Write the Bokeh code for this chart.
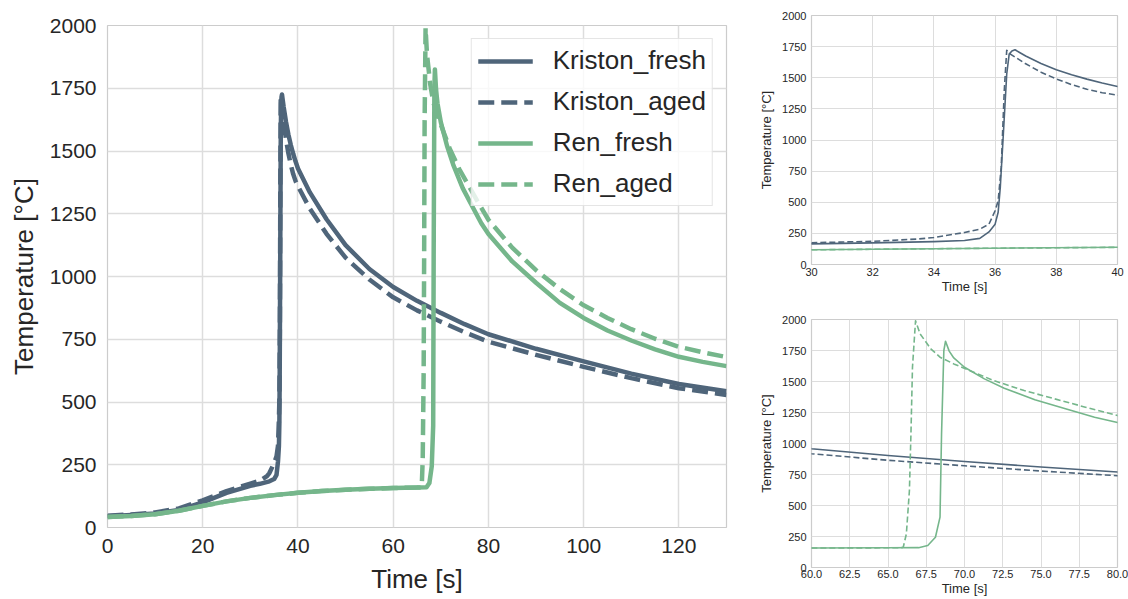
from bokeh.plotting import figure
from bokeh.layouts import row, column
from bokeh.models import Range1d, SingleIntervalTicker, PrintfTickFormatter
from bokeh.embed import file_html
from bokeh.resources import INLINE

# ---------------- data ----------------
kf_t = [0, 5, 10, 15, 20, 25, 30, 32, 34, 35, 35.5, 35.8, 36.0, 36.1, 36.17, 36.27, 36.38,
        36.46, 36.55, 36.65, 36.8, 37.0, 37.5, 38.0, 38.5, 39.0, 39.5, 40.0, 42.5, 46, 50, 55,
        60, 65, 70, 75, 80, 90, 100, 110, 120, 130]
kf_T = [45, 50, 56, 70, 100, 138, 166, 174, 184, 193, 210, 262, 324, 420, 622, 1050, 1530,
        1690, 1715, 1725, 1703, 1675, 1615, 1565, 1524, 1489, 1458, 1430, 1335, 1228, 1125, 1030,
        958, 903, 855, 810, 770, 712, 662, 613, 572, 543]

ka_t = [0, 5, 10, 15, 20, 25, 30, 32, 33.5, 34, 35, 35.5, 35.8, 36.0, 36.1, 36.2, 36.3, 36.38,
        36.5, 37, 37.5, 38, 38.5, 39, 39.5, 40, 42.5, 46, 50, 55, 60, 65, 70, 75, 80, 90, 100,
        110, 120, 130]
ka_T = [47, 52, 60, 76, 108, 145, 175, 186, 205, 217, 257, 284, 324, 432, 512, 780, 1400, 1720,
        1690, 1612, 1545, 1490, 1445, 1408, 1380, 1360, 1270, 1170, 1075, 988, 917, 865, 820, 778,
        740, 688, 640, 595, 555, 528]

rf_t = [0, 5, 10, 15, 20, 25, 30, 35, 40, 45, 50, 55, 60, 65, 67.0, 67.6, 68.1, 68.4, 68.5,
        68.65, 68.76, 69.0, 69.3, 70.0, 71.3, 72.6, 74.6, 76.6, 78.5, 80, 85, 90, 95, 100, 105,
        110, 115, 120, 125, 130]
rf_T = [42, 46, 53, 67, 86, 104, 118, 129, 138, 145, 150, 154, 157, 159, 160, 177, 244, 406, 1078,
        1750, 1825, 1745, 1690, 1615, 1521, 1446, 1352, 1280, 1212, 1169, 1060, 975, 895, 835, 785,
        745, 710, 680, 660, 643]

ra_t = [0, 5, 10, 15, 20, 25, 30, 35, 40, 45, 50, 55, 60, 65, 65.9, 66.0, 66.2, 66.4, 66.5, 66.6,
        66.8, 67.1, 67.8, 68.4, 69.3, 70.6, 71.9, 73.9, 75.9, 77.9, 80, 85, 90, 95, 100, 105, 110,
        115, 120, 125, 130]
ra_T = [42, 46, 53, 67, 86, 104, 118, 129, 138, 145, 150, 154, 157, 159, 160, 165, 271, 621, 1078,
        1615, 1990, 1884, 1763, 1696, 1642, 1575, 1508, 1427, 1360, 1293, 1226, 1115, 1025, 950, 885,
        835, 790, 752, 720, 698, 679]

series = [
    ("Kriston_fresh", kf_t, kf_T, "#4f657a", False),
    ("Kriston_aged", ka_t, ka_T, "#4f657a", True),
    ("Ren_fresh", rf_t, rf_T, "#75b68b", False),
    ("Ren_aged", ra_t, ra_T, "#75b68b", True),
]

FONT = "Liberation Sans"
TXT = "#262626"


def style(p, tick_size, label_size, grid_w, x_so, x_lso, y_so, y_lso):
    p.background_fill_color = "white"
    p.border_fill_color = "white"
    p.outline_line_color = "#cccccc"
    p.outline_line_width = 1.2
    for ax, so, lso in ((p.xaxis[0], x_so, x_lso), (p.yaxis[0], y_so, y_lso)):
        ax.axis_line_color = None
        ax.major_tick_line_color = None
        ax.minor_tick_line_color = None
        ax.major_tick_out = 0
        ax.major_tick_in = 0
        ax.minor_tick_out = 0
        ax.minor_tick_in = 0
        ax.major_label_text_font = FONT
        ax.major_label_text_font_size = tick_size
        ax.major_label_text_color = TXT
        ax.axis_label_text_font = FONT
        ax.axis_label_text_font_size = label_size
        ax.axis_label_text_font_style = "normal"
        ax.axis_label_text_color = TXT
        ax.major_label_standoff = so
        ax.axis_label_standoff = lso
    p.grid.grid_line_color = "#dddddd"
    p.grid.grid_line_width = grid_w


def make(xr, yr, w, h, b, xint, yint, lw, dash, tick_size, label_size, grid_w,
         standoffs, legend=False):
    p = figure(width=w, height=h, x_range=Range1d(*xr), y_range=Range1d(*yr),
               output_backend="svg", toolbar_location=None,
               min_border_left=b[0], min_border_right=b[1],
               min_border_top=b[2], min_border_bottom=b[3],
               x_axis_label="Time [s]", y_axis_label="Temperature [°C]")
    for name, t, T, col, dashed in series:
        kw = dict(line_color=col, line_width=lw, line_cap="butt", line_join="round")
        if dashed:
            kw["line_dash"] = dash
        if legend:
            kw["legend_label"] = name
        p.line(t, T, **kw)
    p.xaxis.ticker = SingleIntervalTicker(interval=xint)
    p.yaxis.ticker = SingleIntervalTicker(interval=yint)
    style(p, tick_size, label_size, grid_w, *standoffs)
    return p


main = make((0, 130), (0, 2000), 740, 599, (107, 14, 25, 72), 20, 250, 4.5, "16 7",
            "21px", "26px", 1.5, (11, 8, 11, 8), legend=True)
lg = main.legend[0]
lg.location = "top_right"
lg.margin = 13
lg.padding = 6
lg.spacing = 10
lg.label_height = 28
lg.glyph_height = 28
lg.glyph_width = 55
lg.label_standoff = 20
lg.label_text_font = FONT
lg.label_text_font_size = "26px"
lg.label_text_color = TXT
lg.border_line_color = "#cccccc"
lg.border_line_width = 1
lg.background_fill_alpha = 0.8

top = make((30, 40), (0, 2000), 388, 300, (71, 10, 15, 36), 2, 250, 1.6, "6 3",
           "11px", "13px", 1, (3, 0, 5, 5))

bot = make((60, 80), (0, 2000), 388, 299, (71, 11, 19, 32), 2.5, 250, 1.6, "6 3",
           "11px", "13px", 1, (2, 0, 5, 5))
bot.xaxis.formatter = PrintfTickFormatter(format="%.1f")

layout = row(main, column(top, bot))

open("out.html", "w").write(file_html(layout, INLINE))
